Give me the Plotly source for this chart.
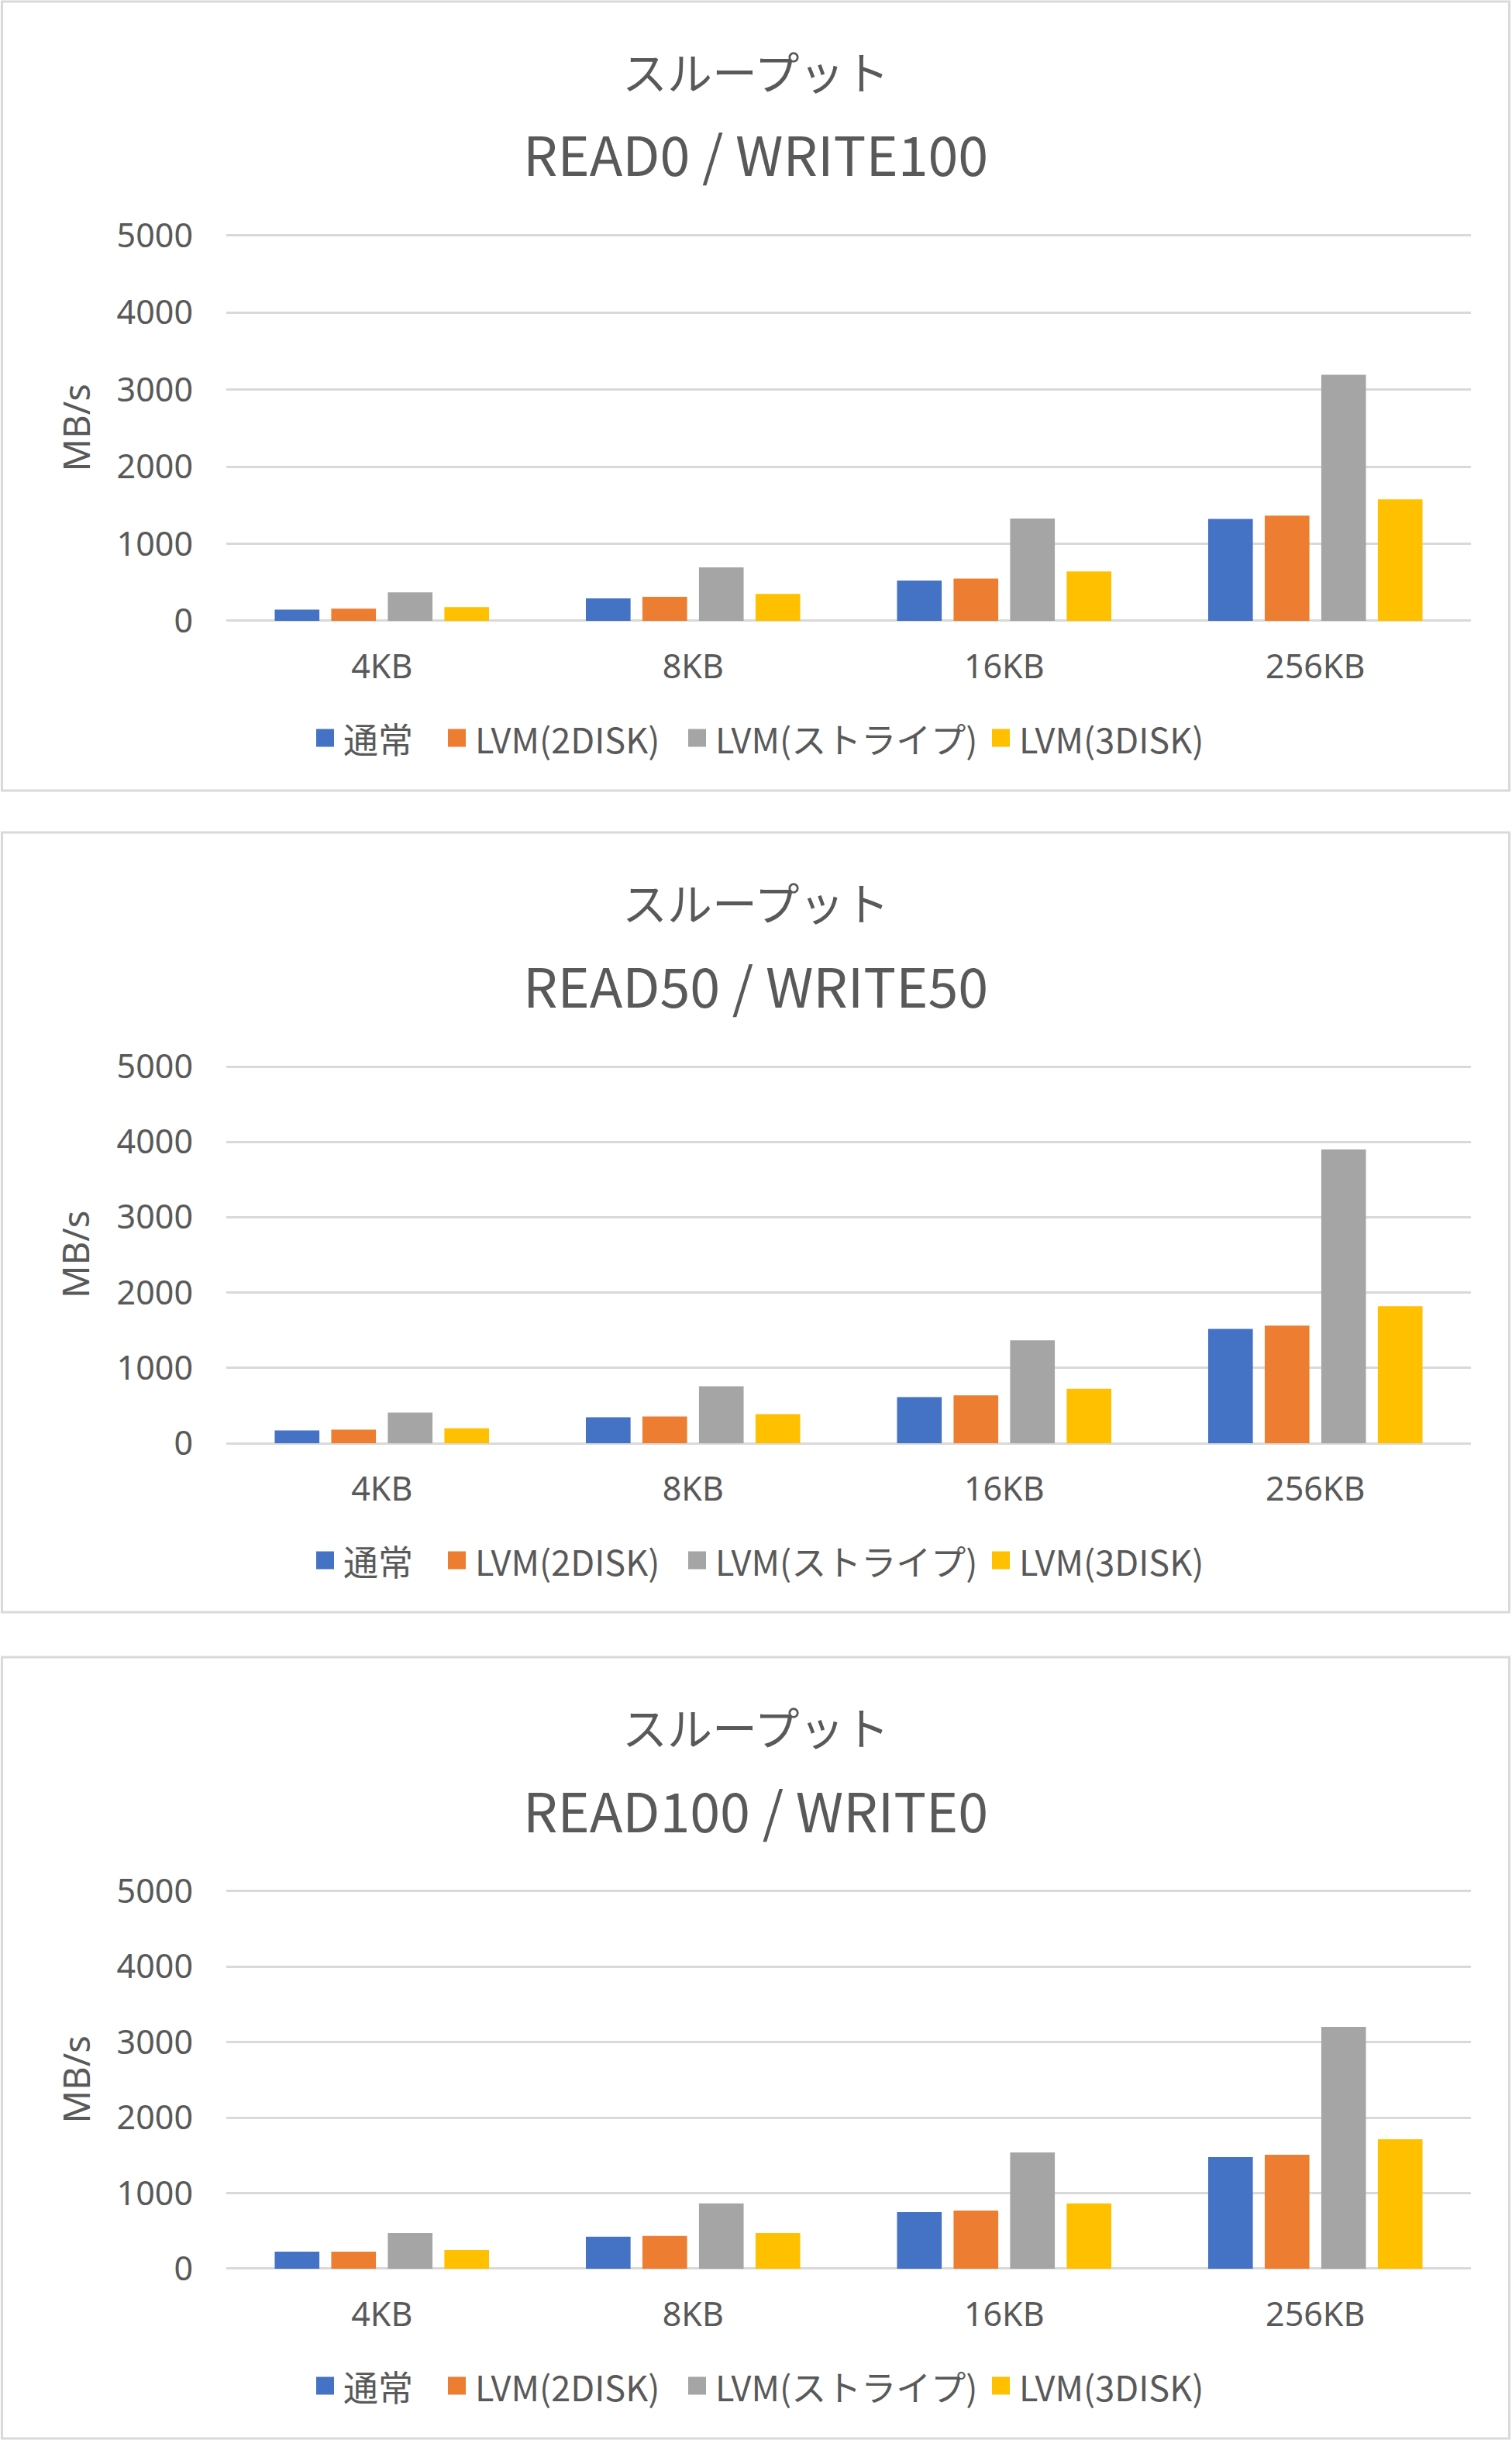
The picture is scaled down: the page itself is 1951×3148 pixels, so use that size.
import plotly.graph_objects as go

W, H = 1951, 3148

categories = ["4KB", "8KB", "16KB", "256KB"]
series_names = ["通常", "LVM(2DISK)", "LVM(ストライプ)", "LVM(3DISK)"]
colors = ["#4472C4", "#ED7D31", "#A5A5A5", "#FFC000"]
chart_titles = ["READ0 / WRITE100", "READ50 / WRITE50", "READ100 / WRITE0"]

# MB/s, one list per series
read0_write100 = [
    [145, 291, 522, 1323],
    [159, 311, 549, 1365],
    [370, 694, 1329, 3195],
    [179, 350, 641, 1577],
]
read50_write50 = [
    [171, 345, 613, 1518],
    [181, 355, 634, 1560],
    [407, 756, 1365, 3900],
    [198, 386, 724, 1818],
]
read100_write0 = [
    [226, 423, 749, 1478],
    [226, 434, 770, 1509],
    [472, 864, 1541, 3203],
    [246, 472, 864, 1714],
]
all_data = [read0_write100, read50_write50, read100_write0]

TEXT = "#595959"
GRID = "#D9D9D9"
YMAX = 5000
YTOP = 5015  # a hair above 5000 so plotly keeps the top gridline

# pixel layout of each of the three panels
box_top = [2, 1074, 2138]
box_bot = [1020, 2080, 3146]
plot_top = [304, 1376, 2440]   # where the 5000 line sits
plot_bot = [801, 1862, 2927]   # where the 0 line sits
plot_left, plot_right = 292, 1898
legend_sq = [408, 578, 888, 1280]
legend_tx = [441, 611, 921, 1313]


def px(x):
    return x / W


def py(y):
    return 1 - y / H


fig = go.Figure()
shapes = []
annotations = []

for k, data in enumerate(all_data):
    n = "" if k == 0 else str(k + 1)
    for i, name in enumerate(series_names):
        fig.add_trace(go.Bar(
            x=categories, y=data[i], name=name,
            marker=dict(color=colors[i], line=dict(width=0)),
            xaxis="x" + n, yaxis="y" + n, showlegend=False,
        ))

    top_px = plot_bot[k] - (plot_bot[k] - plot_top[k]) * YTOP / YMAX
    fig.update_layout({
        "xaxis" + n: dict(
            domain=[px(plot_left), px(plot_right)],
            anchor="y" + n, showgrid=False, showline=False, ticks="",
            zeroline=False, automargin=False,
            tickfont=dict(family="Noto Sans", size=43, color=TEXT),
            ticklabelstandoff=30,
        ),
        "yaxis" + n: dict(
            domain=[py(plot_bot[k]), py(top_px)],
            anchor="x" + n, range=[0, YTOP], tick0=0, dtick=1000,
            showgrid=True, gridcolor=GRID, gridwidth=3,
            zeroline=True, zerolinecolor=GRID, zerolinewidth=3,
            showline=False, ticks="", automargin=False,
            tickfont=dict(family="Noto Sans", size=43, color=TEXT),
            ticklabelstandoff=42,
        ),
    })

    # panel border
    shapes.append(dict(
        type="rect", xref="paper", yref="paper",
        x0=px(2.5), x1=px(1947.5), y0=py(box_bot[k]), y1=py(box_top[k]),
        line=dict(color=GRID, width=3), fillcolor="rgba(0,0,0,0)", layer="below",
    ))

    # two-line title
    annotations.append(dict(
        text="スループット", xref="paper", yref="paper",
        x=px(975), y=py(box_top[k] + 89), showarrow=False,
        xanchor="center", yanchor="middle",
        font=dict(family="Noto Sans CJK JP", size=58, color=TEXT),
    ))
    annotations.append(dict(
        text=chart_titles[k], xref="paper", yref="paper",
        x=px(975), y=py(box_top[k] + 195), showarrow=False,
        xanchor="center", yanchor="middle",
        font=dict(family="Noto Sans CJK JP", size=70, color=TEXT),
    ))

    # y axis title
    annotations.append(dict(
        text="MB/s", xref="paper", yref="paper",
        x=px(97), y=py((plot_top[k] + plot_bot[k]) / 2), showarrow=False,
        textangle=-90, xanchor="center", yanchor="middle",
        font=dict(family="Noto Sans", size=47, color=TEXT),
    ))

    # legend row
    ly = plot_bot[k] + 151
    for i, name in enumerate(series_names):
        shapes.append(dict(
            type="rect", xref="paper", yref="paper",
            x0=px(legend_sq[i]), x1=px(legend_sq[i] + 23),
            y0=py(ly + 11.5), y1=py(ly - 11.5),
            fillcolor=colors[i], line=dict(width=0),
        ))
        annotations.append(dict(
            text=name, xref="paper", yref="paper",
            x=px(legend_tx[i]), y=py(ly), showarrow=False,
            xanchor="left", yanchor="middle",
            font=dict(family="Noto Sans CJK JP", size=45, color=TEXT),
        ))

fig.update_layout(
    width=W, height=H,
    margin=dict(l=0, r=0, t=0, b=0, pad=0, autoexpand=False),
    paper_bgcolor="white", plot_bgcolor="white",
    barmode="group", bargap=0.273, bargroupgap=0.21,
    shapes=shapes, annotations=annotations,
    showlegend=False,
)

fig.write_html(
    "out.html",
    config={"displayModeBar": False},
    post_script="document.body.style.margin='0';",
)
